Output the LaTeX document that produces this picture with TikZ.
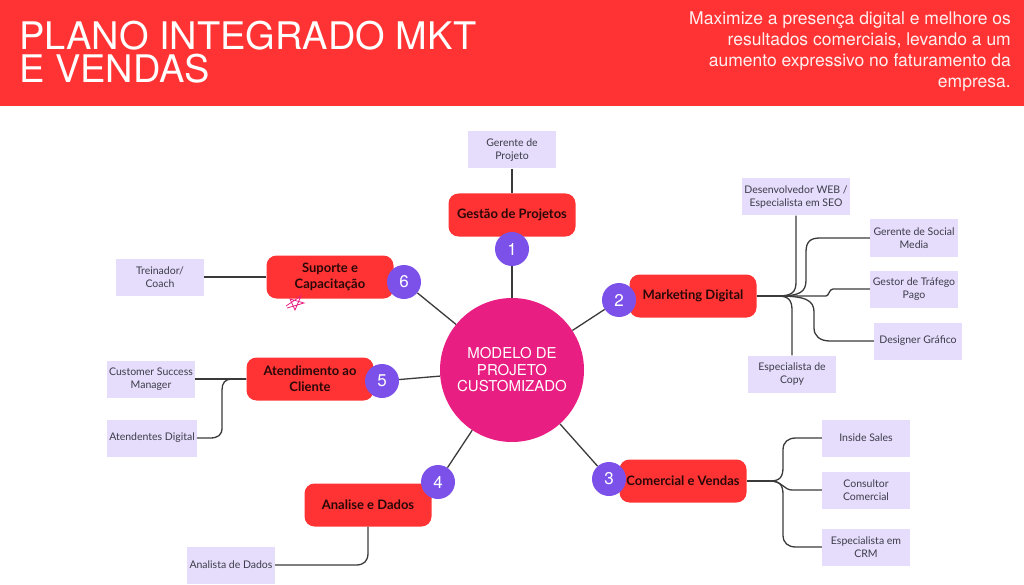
\documentclass[tikz,border=0pt]{standalone}
\usepackage{fontspec}
\setmainfont{Lato}
\newfontfamily\headfont{TeX Gyre Heros}
\usetikzlibrary{positioning}
\definecolor{hdred}{HTML}{FF3333}
\definecolor{hubpink}{HTML}{E91E82}
\definecolor{numpurple}{HTML}{7B51E9}
\definecolor{lilac}{HTML}{E6DCFB}
\definecolor{wiregray}{HTML}{3A3A3A}
\definecolor{subtext}{HTML}{3C3C4A}
\definecolor{areatext}{HTML}{2A0808}

\begin{document}
\begin{tikzpicture}[x=1pt, y=-1pt,
    area/.style={rectangle, fill=hdred, rounded corners=10pt, minimum width=127pt, minimum height=43pt, inner sep=2pt, align=center, text=areatext, font=\bfseries\fontsize{13}{16}\selectfont},
    role/.style={rectangle, fill=lilac, minimum width=88pt, minimum height=37pt, inner sep=2pt, align=center, text=subtext, font=\fontsize{10.5}{13.5}\selectfont},
    num/.style={circle, fill=numpurple, minimum size=34pt, inner sep=0pt, text=white, font=\headfont\fontsize{17}{17}\selectfont},
    link/.style={draw=wiregray, line width=1.3pt}
]

\useasboundingbox (0,0) rectangle (1024,585);

% header
\fill[hdred] (0,0) rectangle (1024,106);
\node[anchor=base west, inner sep=0pt, text=white, font=\headfont\fontsize{38}{38}\selectfont] (title) at (19,50)
{PLANO INTEGRADO MKT};
\node[anchor=base west, inner sep=0pt, text=white, font=\headfont\fontsize{38}{38}\selectfont] (titlerest) at (19,83)
{E VENDAS};
\node[anchor=north east, align=right, inner sep=0pt, text=white!92!hdred, font=\headfont\fontsize{17.5}{21}\selectfont] (goal) at (1011,12)
{Maximize a presença digital e melhore os\\resultados comerciais, levando a um\\aumento expressivo no faturamento da\\empresa.};

% centro
\node[circle, fill=hubpink, minimum size=144pt, inner sep=0pt, align=center, text=white, font=\headfont\fontsize{15}{16.5}\selectfont] (hub) at (512,370)
{MODELO DE\\PROJETO\\CUSTOMIZADO};

\node[area] (gestao) at (512,215) {Gestão de Projetos};
\node[area] (mkt) at (693,296) {Marketing Digital};
\node[area] (comercial) at (683,481) {Comercial e Vendas};
\node[area] (analise) at (368,505) {Analise e Dados};
\node[area] (atend) at (310,379) {Atendimento ao\\Cliente};
\node[area] (suporte) at (330,277) {Suporte e\\Capacitação};

\node[num] (n1) at (512,249) {1};
\node[num] (n2) at (619,300) {2};
\node[num] (n3) at (609,479) {3};
\node[num] (n4) at (438,482) {4};
\node[num] (n5) at (382,381) {5};
\node[num] (n6) at (404,282) {6};

\node[role] (gerente) at (512,150) {Gerente de\\Projeto};
\node[role, minimum width=108pt] (dev) at (796,197) {Desenvolvedor WEB /\\Especialista em SEO};
\node[role] (social) at (914,238) {Gerente de Social\\Media};
\node[role] (trafego) at (914,289) {Gestor de Tráfego\\Pago};
\node[role] (designer) at (918,341) {Designer Gráfico};
\node[role] (copy) at (792,374) {Especialista de\\Copy};
\node[role] (inside) at (866,438) {Inside Sales};
\node[role] (consultor) at (866,490) {Consultor\\Comercial};
\node[role] (crm) at (866,547) {Especialista em\\CRM};
\node[role] (analista) at (231,565) {Analista de Dados};
\node[role] (csm) at (151,379) {Customer Success\\Manager};
\node[role] (atendentes) at (152,438) {Atendentes Digital};
\node[role] (coach) at (160,277) {Treinador/\\Coach};

% ligações ao centro
\draw[link] (n1) -- (hub);
\draw[link] (n2) -- (hub);
\draw[link] (n3) -- (hub);
\draw[link] (n4) -- (hub);
\draw[link] (n5) -- (hub);
\draw[link] (n6) -- (hub);

\draw[link] (gerente) -- (gestao);

% marketing
\coordinate (mktfork) at (778,296);
\draw[link] (mkt.east) -- (mktfork);
\draw[link] (mktfork) .. controls (792,296) and (796,292) .. (796,282) -- (dev.south);
\draw[link] (mktfork) .. controls (800,296) and (806,292) .. (806,280) -- (806,252) .. controls (806,242) and (810,238) .. (820,238) -- (social.west);
\draw[link] (mktfork) -- (826,296) .. controls (829,296) and (829,289) .. (833,289) -- (trafego.west);
\draw[link] (mktfork) .. controls (805,296) and (814,300) .. (814,312) -- (814,328) .. controls (814,336) and (820,341) .. (830,341) -- (designer.west);
\draw[link] (mktfork) .. controls (788,296) and (792,300) .. (792,310) -- (copy.north);

% comercial
\coordinate (comfork) at (770,481);
\draw[link] (comercial.east) -- (comfork);
\draw[link] (comfork) .. controls (780,481) and (783,477) .. (783,467) -- (783,450) .. controls (783,442) and (788,438) .. (796,438) -- (inside.west);
\draw[link] (comfork) .. controls (782,481) and (784,490) .. (792,490) -- (consultor.west);
\draw[link] (comfork) .. controls (780,481) and (783,485) .. (783,495) -- (783,535) .. controls (783,543) and (788,547) .. (796,547) -- (crm.west);

% atendimento, suporte, analise
\draw[link] (atend.west) -- (csm.east);
\draw[link] (atend.west) -- (232,379) .. controls (225,379) and (222,383) .. (222,390) -- (222,428) .. controls (222,435) and (218,438) .. (210,438) -- (atendentes.east);
\draw[link] (suporte.west) -- (coach.east);
\draw[link] (analise.south) -- (368,553) .. controls (368,561) and (364,565) .. (356,565) -- (analista.east);

% rabisco
\draw[hubpink, line width=0.8pt] (286,306) -- (301,296) -- (295,310) -- (290,299) -- (304,303) -- (287,308);

\end{tikzpicture}
\end{document}
